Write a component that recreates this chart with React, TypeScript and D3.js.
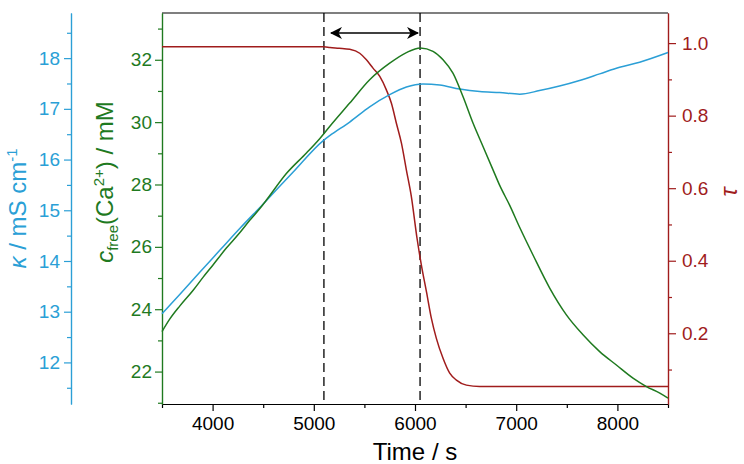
import { useEffect, useRef } from "react"
import * as d3 from "d3"

// conductivity κ (mS/cm)
const kappaTime = [3500, 3675, 3873, 4071, 4268, 4498, 4794, 5091, 5157, 5355, 5552, 5750, 5915, 6079, 6244, 6442, 6640, 6837, 7035, 7230, 7428, 7626, 7825, 8022, 8220, 8500]
const kappaValues = [12.96, 13.34, 13.78, 14.21, 14.64, 15.12, 15.75, 16.37, 16.47, 16.74, 17.04, 17.28, 17.43, 17.49, 17.47, 17.39, 17.34, 17.32, 17.29, 17.36, 17.45, 17.56, 17.69, 17.82, 17.92, 18.11]

// free calcium concentration (mM)
const calciumTime = [3500, 3576, 3675, 3806, 3905, 4004, 4136, 4268, 4367, 4465, 4532, 4729, 4927, 5058, 5157, 5355, 5552, 5750, 5915, 6053, 6178, 6277, 6375, 6474, 6573, 6672, 6771, 6837, 6936, 7035, 7166, 7331, 7496, 7660, 7825, 7990, 8154, 8287, 8419, 8500]
const calciumValues = [23.28, 23.68, 24.10, 24.60, 25.02, 25.42, 25.96, 26.45, 26.85, 27.22, 27.50, 28.35, 29.01, 29.47, 29.86, 30.61, 31.36, 31.89, 32.23, 32.38, 32.27, 32.0, 31.57, 30.82, 29.97, 29.22, 28.47, 27.97, 27.33, 26.62, 25.74, 24.68, 23.82, 23.18, 22.64, 22.21, 21.79, 21.52, 21.31, 21.15]

// τ
const tauTime = [3500, 4000, 4500, 5000, 5100, 5160, 5250, 5355, 5454, 5520, 5585, 5652, 5717, 5767, 5816, 5866, 5915, 5964, 6020, 6063, 6113, 6162, 6211, 6277, 6343, 6409, 6508, 6639, 6837, 7500, 8500]
const tauValues = [0.99, 0.99, 0.99, 0.99, 0.99, 0.988, 0.986, 0.983, 0.972, 0.954, 0.931, 0.908, 0.871, 0.834, 0.779, 0.724, 0.650, 0.577, 0.462, 0.388, 0.315, 0.241, 0.186, 0.131, 0.090, 0.071, 0.057, 0.053, 0.053, 0.053, 0.053]

const timeTicks = [4000, 5000, 6000, 7000, 8000]
const timeMinor = [3500, 4500, 5500, 6500, 7500, 8500]
const calciumTicks = [22, 24, 26, 28, 30, 32]
const calciumMinor = [21, 23, 25, 27, 29, 31, 33]
const kappaTicks = [12, 13, 14, 15, 16, 17, 18]
const kappaMinor = [11.5, 12.5, 13.5, 14.5, 15.5, 16.5, 17.5, 18.5]
const tauTicks = [0.2, 0.4, 0.6, 0.8, 1.0]
const tauMinor = [0.1, 0.3, 0.5, 0.7, 0.9]

// reaction window markers and arrow
const markerTimes = [5100, 6050]
const arrowTimes = [5170, 6030]

const BLUE = "#2b9fd6"
const GREEN = "#1f7a1f"
const RED = "#a01c1c"
const FONT = "'Liberation Sans', Arial, sans-serif"

export default function App() {
  const svgRef = useRef<SVGSVGElement>(null)

  useEffect(() => {
    const svg = d3.select(svgRef.current)
    svg.selectAll("*").remove()

    const width = 744
    const height = 464
    const left = 162
    const right = 668
    const top = 13
    const bottom = 404

    svg.attr("width", width).attr("height", height)

    const x = d3.scaleLinear().domain([3500, 8500]).range([left, right])
    const yC = d3.scaleLinear().domain([20.96, 33.5]).range([bottom, top])
    const yK = d3.scaleLinear().domain([11.18, 18.89]).range([bottom, top])
    const yT = d3.scaleLinear().domain([0.005, 1.083]).range([bottom, top])

    const defs = svg.append("defs")
    defs.append("marker")
      .attr("id", "arrowHead")
      .attr("viewBox", "0 0 12 12")
      .attr("refX", 11)
      .attr("refY", 6)
      .attr("markerWidth", 12)
      .attr("markerHeight", 12)
      .attr("markerUnits", "userSpaceOnUse")
      .attr("orient", "auto-start-reverse")
      .append("path")
      .attr("d", "M0,0 L12,6 L0,12 L3.5,6 Z")
      .attr("fill", "#000")

    const styleAxis = (g: d3.Selection<SVGGElement, unknown, null, undefined>, color: string) => {
      g.attr("font-family", FONT).attr("font-size", 19)
      g.selectAll("path").attr("stroke", color).attr("stroke-width", 1.2)
      g.selectAll("line").attr("stroke", color).attr("stroke-width", 1.2)
      g.selectAll("text").attr("fill", color)
    }

    // frame top border
    svg.append("line")
      .attr("x1", left).attr("x2", right)
      .attr("y1", top).attr("y2", top)
      .attr("stroke", "#000").attr("stroke-width", 1.2)

    // bottom time axis
    const xAxis = svg.append("g").attr("transform", `translate(0,${bottom})`)
      .call(d3.axisBottom(x).tickValues(timeTicks).tickSize(7).tickSizeOuter(0).tickPadding(6).tickFormat(d3.format("d")))
    styleAxis(xAxis, "#000")
    const xMinor = svg.append("g").attr("transform", `translate(0,${bottom})`)
      .call(d3.axisBottom(x).tickValues(timeMinor).tickSize(4).tickSizeOuter(0).tickFormat(() => ""))
    styleAxis(xMinor, "#000")

    // calcium axis (left frame)
    const cAxis = svg.append("g").attr("transform", `translate(${left},0)`)
      .call(d3.axisLeft(yC).tickValues(calciumTicks).tickSize(7).tickSizeOuter(0).tickPadding(3).tickFormat(d3.format("d")))
    styleAxis(cAxis, GREEN)
    const cMinor = svg.append("g").attr("transform", `translate(${left},0)`)
      .call(d3.axisLeft(yC).tickValues(calciumMinor).tickSize(4).tickSizeOuter(0).tickFormat(() => ""))
    styleAxis(cMinor, GREEN)

    // conductivity axis, offset to the left
    const kX = 71
    const kAxis = svg.append("g").attr("transform", `translate(${kX},0)`)
      .call(d3.axisLeft(yK).tickValues(kappaTicks).tickSize(7).tickSizeOuter(0).tickPadding(4).tickFormat(d3.format("d")))
    styleAxis(kAxis, BLUE)
    const kMinor = svg.append("g").attr("transform", `translate(${kX},0)`)
      .call(d3.axisLeft(yK).tickValues(kappaMinor).tickSize(4).tickSizeOuter(0).tickFormat(() => ""))
    styleAxis(kMinor, BLUE)

    // τ axis (right frame)
    const tAxis = svg.append("g").attr("transform", `translate(${right},0)`)
      .call(d3.axisRight(yT).tickValues(tauTicks).tickSize(8).tickSizeOuter(0).tickPadding(6).tickFormat(d3.format(".1f")))
    styleAxis(tAxis, RED)
    const tMinor = svg.append("g").attr("transform", `translate(${right},0)`)
      .call(d3.axisRight(yT).tickValues(tauMinor).tickSize(4).tickSizeOuter(0).tickFormat(() => ""))
    styleAxis(tMinor, RED)

    // dashed markers
    svg.selectAll(".marker")
      .data(markerTimes)
      .enter()
      .append("line")
      .attr("class", "marker")
      .attr("x1", d => x(d)).attr("x2", d => x(d))
      .attr("y1", top).attr("y2", bottom)
      .attr("stroke", "#000")
      .attr("stroke-width", 1.3)
      .attr("stroke-dasharray", "9,5")

    // curves
    const series = [
      { t: tauTime, v: tauValues, y: yT, color: RED },
      { t: kappaTime, v: kappaValues, y: yK, color: BLUE },
      { t: calciumTime, v: calciumValues, y: yC, color: GREEN },
    ]
    series.forEach(s => {
      const line = d3.line<number>()
        .x((_, i) => x(s.t[i]))
        .y(d => s.y(d))
        .curve(d3.curveMonotoneX)
      svg.append("path")
        .datum(s.v)
        .attr("d", line)
        .attr("fill", "none")
        .attr("stroke", s.color)
        .attr("stroke-width", 1.5)
    })

    // double arrow over the window
    svg.append("line")
      .attr("x1", x(arrowTimes[0])).attr("x2", x(arrowTimes[1]))
      .attr("y1", yT(1.028)).attr("y2", yT(1.028))
      .attr("stroke", "#000")
      .attr("stroke-width", 1.5)
      .attr("marker-start", "url(#arrowHead)")
      .attr("marker-end", "url(#arrowHead)")

    // axis titles
    svg.append("text")
      .attr("x", (left + right) / 2)
      .attr("y", 460)
      .attr("text-anchor", "middle")
      .attr("font-family", FONT)
      .attr("font-size", 24)
      .attr("fill", "#000")
      .text("Time / s")

    const kTitle = svg.append("text")
      .attr("transform", `translate(26,${(top + bottom) / 2}) rotate(-90)`)
      .attr("text-anchor", "middle")
      .attr("font-family", FONT)
      .attr("font-size", 24)
      .attr("fill", BLUE)
    kTitle.append("tspan").attr("font-style", "italic").text("κ")
    kTitle.append("tspan").text(" / mS cm")
    kTitle.append("tspan").attr("font-size", 15).attr("dy", -9).text("-1")

    const cTitle = svg.append("text")
      .attr("transform", `translate(113,182) rotate(-90)`)
      .attr("text-anchor", "middle")
      .attr("font-family", FONT)
      .attr("font-size", 24)
      .attr("fill", GREEN)
    cTitle.append("tspan").attr("font-style", "italic").text("c")
    cTitle.append("tspan").attr("font-size", 15).attr("dy", 5).text("free")
    cTitle.append("tspan").attr("dy", -5).text("(Ca")
    cTitle.append("tspan").attr("font-size", 15).attr("dy", -9).text("2+")
    cTitle.append("tspan").attr("dy", 9).text(") / mM")

    svg.append("text")
      .attr("transform", `translate(737,192) rotate(-90)`)
      .attr("text-anchor", "middle")
      .attr("font-family", FONT)
      .attr("font-size", 24)
      .attr("font-style", "italic")
      .attr("fill", RED)
      .text("τ")
  }, [])

  return (
    <div style={{ position: "absolute", left: 0, top: 0, background: "#fff" }}>
      <svg ref={svgRef}></svg>
    </div>
  )
}
